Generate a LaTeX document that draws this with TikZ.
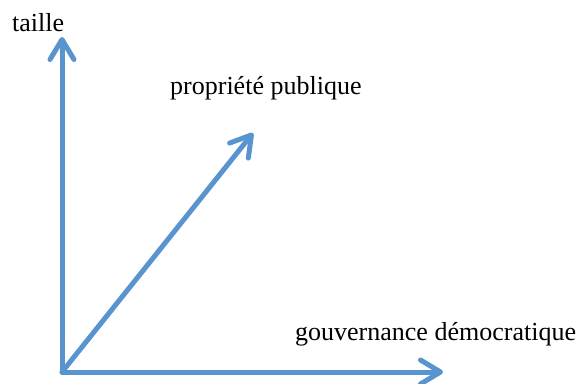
\documentclass[tikz,border=0pt]{standalone}
\usepackage{fontspec}
\setmainfont{Liberation Serif}
\usetikzlibrary{arrows.meta, positioning}
\definecolor{axisblue}{RGB}{88,148,206}
\tikzset{
axis/.style={draw=axisblue, line width=5pt, line cap=round, line join=round,
  -{Straight Barb[length=20pt, width=24pt, line cap=round, line join=round]}}, % the three blue arrows
label/.style={anchor=base west, inner sep=0pt, font=\fontsize{26}{30}\selectfont}, % the axis names
}
\begin{document}
\begin{tikzpicture}[x=1pt, y=1pt]
    \useasboundingbox (0,0) rectangle (586,383);
    \coordinate (o) at (62,11);
    \coordinate (top) at (62,346);
    \coordinate (right) at (443,11);
    \coordinate (diag) at (253,250);
    \node[label] (taille) at (12,351) {taille};
    \node[label] (prop) at (170,288) {propriété publique};
    \node[label] (gouv) at (295,43) {gouvernance démocratique};
    \draw[axis] (o) -- (top);
    \draw[axis] (o) -- (right);
    \draw[axis] (o) -- (diag);
\end{tikzpicture}
\end{document}
